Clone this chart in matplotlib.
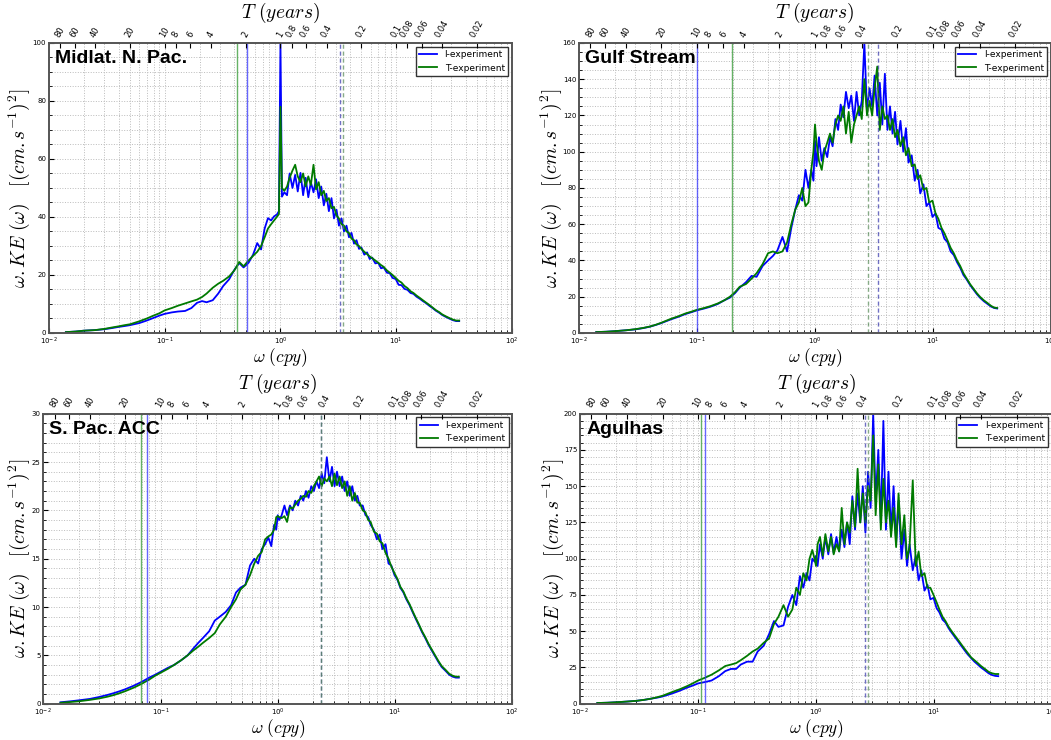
import numpy as np
import matplotlib.pyplot as plt
from matplotlib.ticker import AutoMinorLocator, NullLocator

plt.rcParams['mathtext.fontset'] = 'cm'

# %% frequency axis (cpy), shared by every curve
freq = [0.014, 0.017, 0.020, 0.025, 0.030, 0.035, 0.040, 0.045, 0.050, 0.060,
        0.070, 0.080, 0.090, 0.100, 0.115, 0.130, 0.150, 0.170, 0.190, 0.210,
        0.230, 0.260, 0.290, 0.320, 0.360, 0.400, 0.440, 0.480, 0.530, 0.580,
        0.630, 0.680, 0.730, 0.780, 0.830, 0.880, 0.930, 0.970, 1.000, 1.030,
        1.080, 1.140, 1.200, 1.270, 1.340, 1.410, 1.490, 1.570, 1.650, 1.740,
        1.830, 1.930, 2.030, 2.140, 2.250, 2.370, 2.490, 2.620, 2.760, 2.900,
        3.050, 3.200, 3.370, 3.540, 3.720, 3.910, 4.110, 4.320, 4.540, 4.770,
        5.000, 5.300, 5.600, 5.900, 6.200, 6.600, 7.000, 7.400, 7.800, 8.300,
        8.800, 9.300, 9.900, 10.50, 11.10, 11.80, 12.50, 13.30, 14.10, 15.00,
        16.00, 17.00, 18.10, 19.30, 20.60, 22.00, 23.50, 25.00, 27.00, 29.00,
        31.00, 33.00, 35.00]

# %% Midlat. N. Pac.
midlat_I = [0.3, 0.5, 0.8, 1.0, 1.3, 1.7, 2.1, 2.4, 2.7, 3.4,
            4.3, 5.2, 6.0, 6.6, 7.1, 7.4, 7.6, 8.6, 10.4, 11.0,
            10.6, 11.3, 13.6, 16.2, 18.5, 21.8, 24.1, 22.6, 24.2, 27.0,
            31.0, 28.8, 36.0, 39.6, 38.8, 40.2, 40.8, 42.0, 100.0, 47.0,
            48.5, 47.5, 55.0, 50.0, 54.5, 48.8, 55.2, 47.5, 53.5, 46.8,
            52.0, 48.5, 53.0, 46.5, 50.5, 44.0, 48.0, 42.0, 46.5, 39.5,
            42.5, 37.0, 39.5, 35.0, 37.0, 33.0, 34.5, 30.8, 32.0, 29.0,
            29.5, 27.0, 27.8, 25.5, 26.0, 24.0, 24.2, 22.3, 22.6, 20.8,
            20.6, 19.0, 18.6, 16.6, 16.5, 15.2, 14.9, 13.8, 13.5, 12.5,
            11.8, 11.0, 10.3, 9.4, 8.6, 7.7, 7.0, 6.2, 5.5, 4.9,
            4.4, 4.1, 4.1]
midlat_T = [0.3, 0.5, 0.8, 1.0, 1.4, 1.9, 2.3, 2.7, 3.0, 4.0,
            5.0, 6.0, 6.8, 7.8, 8.6, 9.4, 10.2, 10.9, 11.5, 12.4,
            13.6, 15.6, 17.0, 18.0, 19.5, 21.6, 24.5, 23.0, 25.0, 26.6,
            28.0, 30.0, 33.0, 36.0, 37.5, 38.8, 40.0, 41.0, 78.0, 50.0,
            49.0, 50.5, 53.5, 56.0, 58.0, 54.0, 52.0, 55.0, 50.5, 54.0,
            51.0, 58.0, 49.5, 52.0, 47.5, 49.0, 45.5, 46.5, 43.0, 43.5,
            40.5, 39.5, 37.5, 37.0, 35.0, 34.5, 32.5, 32.0, 30.5, 30.0,
            29.0, 28.0, 27.2, 26.4, 25.8, 25.0, 24.2, 23.4, 22.8, 21.6,
            20.8, 20.0, 19.0, 18.0, 17.4, 16.2, 15.5, 14.4, 13.8, 12.9,
            12.1, 11.3, 10.5, 9.7, 8.8, 7.9, 7.2, 6.4, 5.7, 5.1,
            4.6, 4.3, 4.3]

# %% Gulf Stream
gulf_I = [0.5, 0.7, 1.0, 1.5, 2.0, 2.7, 3.5, 4.5, 5.5, 7.5,
          9.0, 10.5, 11.5, 12.5, 13.5, 14.5, 16.0, 18.0, 19.5, 22.0,
          25.0, 28.0, 31.5, 31.0, 37.0, 40.0, 42.5, 45.5, 53.0, 45.0,
          58.0, 68.0, 76.0, 73.0, 90.0, 80.0, 90.0, 84.0, 106.0, 92.0,
          108.0, 95.0, 102.0, 97.0, 108.0, 103.0, 118.0, 112.0, 126.0, 119.0,
          133.0, 124.0, 131.0, 117.0, 133.0, 120.0, 128.0, 160.0, 122.0, 135.0,
          125.0, 142.0, 120.0, 138.0, 115.0, 143.0, 112.0, 125.0, 110.0, 122.0,
          104.0, 117.0, 100.0, 113.0, 94.0, 98.0, 84.0, 90.0, 77.0, 82.0,
          70.0, 72.0, 64.0, 66.0, 58.0, 57.0, 52.0, 50.0, 45.0, 43.0,
          39.0, 36.0, 32.0, 29.5, 26.5, 24.0, 21.5, 19.5, 17.5, 16.0,
          14.6, 13.8, 13.5]
gulf_T = [0.5, 0.7, 1.0, 1.5, 2.1, 2.8, 3.6, 4.6, 5.7, 7.8,
          9.3, 10.8, 11.8, 12.8, 13.8, 14.8, 16.3, 18.0, 20.0, 22.5,
          25.5, 27.0, 30.0, 33.0, 38.0, 44.0, 45.0, 44.0, 45.0, 50.0,
          60.0, 68.0, 72.0, 80.0, 70.0, 72.0, 90.0, 100.0, 115.0, 105.0,
          95.0, 90.0, 100.0, 105.0, 110.0, 105.0, 115.0, 120.0, 117.0, 125.0,
          110.0, 122.0, 105.0, 115.0, 120.0, 125.0, 118.0, 140.0, 120.0, 128.0,
          120.0, 135.0, 147.0, 112.0, 125.0, 118.0, 120.0, 112.0, 118.0, 108.0,
          112.0, 103.0, 108.0, 98.0, 102.0, 92.0, 93.0, 85.0, 87.0, 79.0,
          80.0, 72.0, 73.0, 66.0, 63.0, 58.0, 55.0, 51.0, 47.0, 44.0,
          40.0, 37.0, 33.0, 30.0, 27.0, 24.5, 22.0, 20.0, 18.0, 16.5,
          15.0, 14.0, 13.8]

# %% S. Pac. ACC
acc_I = [0.15, 0.25, 0.35, 0.5, 0.7, 0.9, 1.1, 1.3, 1.5, 1.9,
         2.3, 2.7, 3.0, 3.3, 3.7, 4.0, 4.5, 5.0, 5.7, 6.3,
         6.8, 7.5, 8.6, 9.0, 9.5, 10.2, 11.5, 12.0, 12.3, 14.3,
         15.0, 14.5, 16.0, 16.5, 17.2, 16.3, 18.5, 18.0, 19.5, 19.0,
         19.5, 20.5, 19.5, 20.5, 20.0, 21.0, 20.5, 21.5, 21.0, 22.0,
         21.3, 22.5, 22.0, 23.0, 22.3, 23.8, 22.8, 25.5, 23.0, 24.5,
         22.5, 24.0, 22.5, 23.5, 22.0, 23.0, 21.5, 22.5, 21.0, 21.5,
         20.5, 20.5, 19.5, 19.3, 18.5, 18.0, 17.0, 17.5, 16.0, 16.5,
         14.5, 14.3, 13.3, 12.8, 12.0, 11.5, 10.8, 10.2, 9.5, 8.8,
         8.1, 7.4, 6.8, 6.1, 5.5, 4.9, 4.3, 3.8, 3.4, 3.0,
         2.8, 2.7, 2.7]
acc_T = [0.1, 0.18, 0.25, 0.4, 0.55, 0.72, 0.9, 1.1, 1.3, 1.7,
         2.1, 2.5, 2.9, 3.2, 3.6, 4.0, 4.5, 5.0, 5.5, 5.9,
         6.3, 6.8, 7.3, 8.2, 9.0, 10.0, 10.8, 11.8, 12.3, 13.3,
         14.5, 15.3, 15.7, 17.0, 17.3, 17.5, 18.0, 19.3, 19.4, 19.3,
         19.2, 19.4, 18.8, 20.3, 20.2, 20.6, 21.0, 21.2, 21.5, 21.4,
         22.0, 21.8, 22.5, 23.0, 23.5, 22.5, 23.3, 23.0, 23.5, 22.5,
         23.8, 22.6, 23.5, 22.3, 23.0, 21.5, 22.5, 21.0, 21.8, 20.8,
         20.8, 20.0, 19.8, 19.0, 18.8, 17.8, 17.6, 16.8, 16.6, 15.6,
         15.0, 14.2, 13.5, 12.9, 12.1, 11.6, 10.9, 10.3, 9.6, 8.9,
         8.2, 7.5, 6.9, 6.2, 5.6, 5.0, 4.4, 3.9, 3.5, 3.1,
         2.9, 2.8, 2.8]

# %% Agulhas
agulhas_I = [0.5, 0.7, 1.0, 1.5, 2.0, 2.7, 3.5, 4.2, 5.0, 7.0,
             9.0, 11.0, 12.5, 14.0, 15.0, 16.0, 19.0, 22.5, 24.0, 24.0,
             27.0, 29.0, 29.0, 36.0, 40.0, 48.0, 57.0, 53.0, 54.0, 67.0,
             75.0, 68.0, 88.0, 80.0, 90.0, 85.0, 100.0, 98.0, 102.0, 95.0,
             110.0, 100.0, 115.0, 103.0, 117.0, 104.0, 115.0, 105.0, 120.0, 108.0,
             125.0, 110.0, 143.0, 120.0, 145.0, 125.0, 150.0, 118.0, 160.0, 135.0,
             200.0, 140.0, 175.0, 125.0, 195.0, 120.0, 160.0, 118.0, 150.0, 110.0,
             140.0, 100.0, 120.0, 95.0, 110.0, 92.0, 102.0, 85.0, 92.0, 78.0,
             82.0, 72.0, 73.0, 66.0, 63.0, 58.0, 56.0, 52.0, 49.0, 46.0,
             43.0, 40.0, 37.0, 34.0, 31.5, 29.0, 27.0, 25.0, 23.0, 21.0,
             19.8, 19.2, 19.0]
agulhas_T = [0.5, 0.7, 1.0, 1.5, 2.0, 2.7, 3.5, 4.5, 5.5, 8.0,
             10.0, 12.0, 14.0, 16.0, 18.0, 20.0, 23.0, 26.0, 27.0, 28.0,
             30.0, 33.0, 36.0, 38.0, 42.0, 45.0, 55.0, 60.0, 68.0, 60.0,
             65.0, 80.0, 75.0, 90.0, 85.0, 100.0, 106.0, 100.0, 95.0, 110.0,
             115.0, 102.0, 117.0, 105.0, 115.0, 103.0, 110.0, 105.0, 135.0, 110.0,
             125.0, 118.0, 140.0, 122.0, 162.0, 125.0, 145.0, 125.0, 150.0, 140.0,
             185.0, 130.0, 165.0, 120.0, 155.0, 125.0, 140.0, 115.0, 135.0, 108.0,
             145.0, 110.0, 130.0, 100.0, 108.0, 154.0, 95.0, 105.0, 88.0, 90.0,
             80.0, 80.0, 75.0, 70.0, 65.0, 60.0, 57.0, 53.0, 50.0, 47.0,
             44.0, 41.0, 38.0, 35.0, 32.0, 30.0, 28.0, 26.0, 24.0, 22.0,
             21.0, 20.5, 20.5]

# vertical markers (cpy): solid I, solid T, dashed I, dashed T
midlat_marks = [0.51, 0.42, 3.30, 3.45]
gulf_marks = [0.10, 0.198, 3.44, 2.83]
acc_marks = [0.076, 0.0676, 2.34, 2.36]
agulhas_marks = [0.115, 0.106, 2.62, 2.77]

periods = [80, 60, 40, 20, 10, 8, 6, 4, 2, 1, 0.8, 0.6, 0.4, 0.2,
           0.1, 0.08, 0.06, 0.04, 0.02]

for s in [midlat_I, midlat_T, gulf_I, gulf_T, acc_I, acc_T, agulhas_I, agulhas_T]:
    assert len(s) == len(freq)

# %%
fig = plt.figure(figsize=(10.51, 7.40), dpi=100)
spine_col = '#555555'


def plot_panel(pos, name, ke_i, ke_t, ymax, marks, ylab_x):
    ax = fig.add_axes(pos)
    ax.plot(freq, ke_i, color='#0000ff', lw=1.3, label='I-experiment')
    ax.plot(freq, ke_t, color='#007a00', lw=1.3, label='T-experiment')
    ax.axvline(marks[0], color='#3333ff', lw=1.0, alpha=0.75)
    ax.axvline(marks[1], color='#339933', lw=1.0, alpha=0.75)
    ax.axvline(marks[2], color='#3333aa', lw=1.0, ls=(0, (3, 2)), alpha=0.7)
    ax.axvline(marks[3], color='#558855', lw=1.0, ls=(0, (3, 2)), alpha=0.7)

    ax.set_xscale('log')
    ax.set_xlim(1e-2, 1e2)
    ax.set_ylim(0, ymax)
    ax.yaxis.set_minor_locator(AutoMinorLocator())
    ax.grid(True, which='both', ls=':', color='#bbbbbb', lw=0.7)
    ax.tick_params(which='both', direction='in', labelsize=5, pad=2)
    ax.set_xlabel(r'$\omega\ (cpy)$', fontsize=12.5)
    ax.xaxis.set_label_coords(0.5, -0.046)
    ax.set_ylabel(r'$\omega.KE\ (\omega)\ \ \ [(cm.s^{-1})^2]$', fontsize=14, va='center')
    ax.yaxis.set_label_coords(ylab_x, 0.5)
    for sp in ax.spines.values():
        sp.set_color(spine_col)
        sp.set_linewidth(1.2)

    ax.text(0.013, 0.945, name, transform=ax.transAxes, fontsize=14,
            fontweight='bold', family='Liberation Sans', ha='left', va='center')
    ax.legend(loc='upper right', fontsize=6.5, fancybox=False, edgecolor='#333333',
              framealpha=1, borderaxespad=0.4, handlelength=2.0)

    top = ax.twiny()
    top.set_xscale('log')
    top.set_xlim(1e-2, 1e2)
    top.set_xticks([1.0 / p for p in periods], labels=['%g' % p for p in periods],
                   rotation=60, fontsize=6)
    top.xaxis.set_minor_locator(NullLocator())
    top.tick_params(direction='in', pad=3)
    top.set_xlabel(r'$T\ (years)$', fontsize=14, va='bottom')
    top.xaxis.set_label_coords(0.5, 1.062)
    for sp in top.spines.values():
        sp.set_color(spine_col)
        sp.set_linewidth(1.2)
    return ax


plot_panel([0.0466, 0.55, 0.4405, 0.392], 'Midlat. N. Pac.', midlat_I, midlat_T, 100, midlat_marks, -0.064)
plot_panel([0.5509, 0.55, 0.4491, 0.392], 'Gulf Stream', gulf_I, gulf_T, 160, gulf_marks, -0.059)
plot_panel([0.0412, 0.049, 0.4462, 0.392], 'S. Pac. ACC', acc_I, acc_T, 30, acc_marks, -0.052)
plot_panel([0.5519, 0.049, 0.4491, 0.392], 'Agulhas', agulhas_I, agulhas_T, 200, agulhas_marks, -0.057)

plt.savefig('out.png', dpi=100)
